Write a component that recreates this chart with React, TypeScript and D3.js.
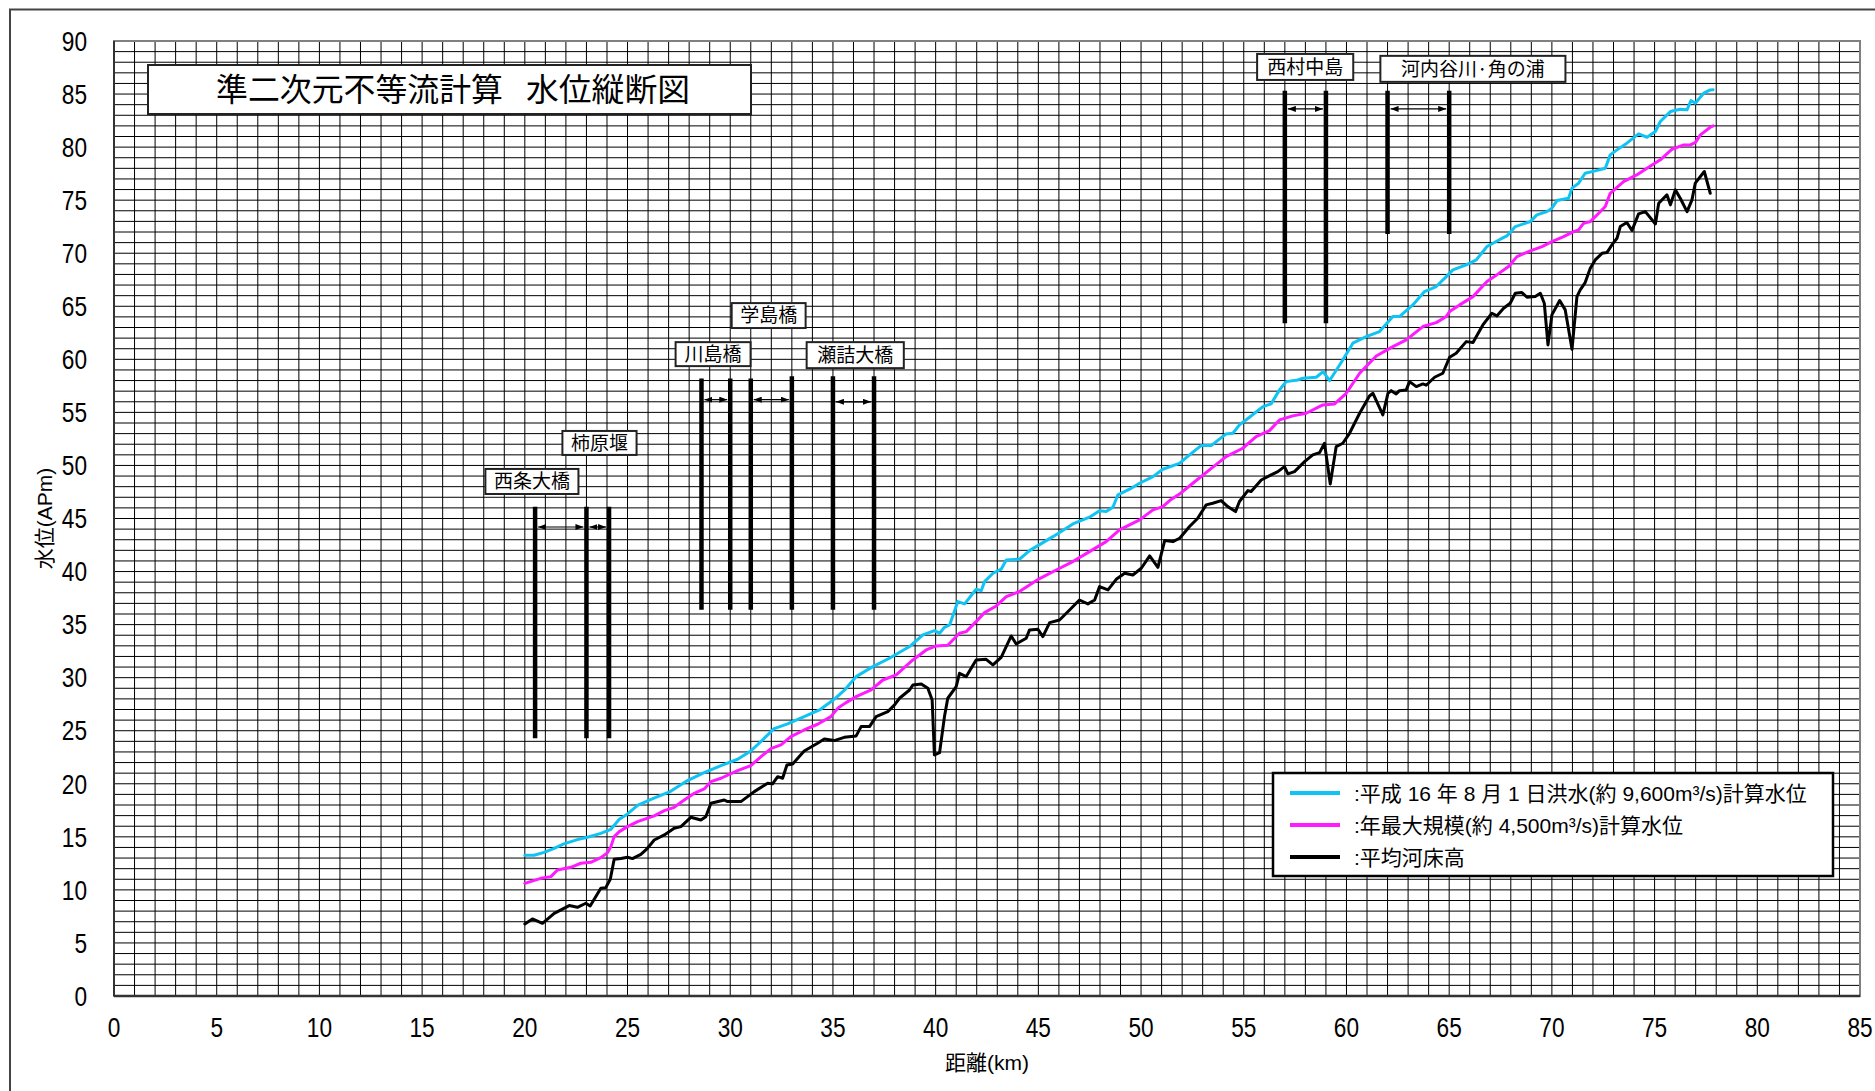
import React from 'react';
import * as d3 from 'd3';

type P = [number, number];

// ---- data ----
const xTickValues = [0, 5, 10, 15, 20, 25, 30, 35, 40, 45, 50, 55, 60, 65, 70, 75, 80, 85];
const yTickValues = [0, 5, 10, 15, 20, 25, 30, 35, 40, 45, 50, 55, 60, 65, 70, 75, 80, 85, 90];

// 平成16年8月1日洪水 計算水位 (km, APm)
const floodH16: P[] = [
  [20.0, 13.26], [20.45, 13.26], [20.94, 13.54], [21.43, 13.92], [21.9, 14.33], [22.56, 14.74],
  [23.05, 14.96], [23.7, 15.33], [24.19, 15.71], [24.6, 16.65], [25.0, 17.16], [25.49, 17.97],
  [26.14, 18.54], [27.1, 19.29], [27.92, 20.3], [28.73, 21.05], [29.55, 21.71], [30.36, 22.31],
  [31.0, 23.09], [31.5, 24.0], [32.14, 25.2], [32.79, 25.64], [33.6, 26.33], [34.4, 27.02],
  [35.06, 27.96], [35.6, 28.9], [36.13, 30.1], [36.94, 31.04], [37.75, 31.83], [38.73, 32.93],
  [39.38, 34.03], [39.94, 34.43], [40.19, 34.18], [40.43, 34.75], [40.68, 34.97], [41.08, 37.17],
  [41.41, 36.95], [41.97, 38.33], [42.22, 38.2], [42.38, 39.05], [42.79, 39.84], [43.19, 40.22],
  [43.44, 41.09], [44.08, 41.16], [44.57, 41.97], [45.71, 43.29], [46.68, 44.49], [47.49, 45.12],
  [47.98, 45.74], [48.3, 45.65], [48.63, 46.06], [48.87, 47.22], [49.44, 47.76], [49.93, 48.32],
  [50.58, 48.95], [51.06, 49.64], [51.87, 50.2], [52.36, 50.99], [52.92, 51.87], [53.41, 51.87],
  [54.14, 52.97], [54.47, 53.03], [54.79, 53.82], [55.28, 54.54], [55.93, 55.55], [56.33, 55.8],
  [56.74, 57.12], [57.06, 57.9], [57.63, 58.06], [57.88, 58.22], [58.53, 58.31], [58.86, 58.85],
  [59.18, 58.0], [59.51, 59.0], [59.82, 59.94], [60.31, 61.52], [60.96, 62.14], [61.61, 62.62],
  [62.26, 64.03], [62.58, 64.03], [63.23, 65.13], [63.8, 66.39], [64.37, 66.86], [64.86, 67.8],
  [65.18, 68.43], [65.83, 68.9], [66.32, 69.37], [66.84, 70.63], [67.49, 71.32], [67.81, 71.63],
  [68.22, 72.51], [68.95, 72.98], [69.27, 73.61], [69.76, 73.92], [70.0, 74.24], [70.25, 74.96],
  [70.81, 75.18], [70.98, 76.13], [71.3, 76.6], [71.62, 77.54], [72.11, 77.76], [72.6, 78.01],
  [72.84, 79.27], [73.17, 79.74], [73.65, 80.37], [74.22, 81.25], [74.63, 80.93], [75.04, 81.47],
  [75.28, 82.41], [75.77, 83.35], [76.25, 83.57], [76.58, 83.51], [76.77, 84.39], [76.98, 84.14],
  [77.39, 85.08], [77.71, 85.39], [77.85, 85.4],
];

// 年最大規模 計算水位
const annualMax: P[] = [
  [20.0, 10.62], [20.78, 11.09], [21.27, 11.25], [21.59, 11.88], [22.24, 12.13], [22.73, 12.51],
  [23.21, 12.6], [23.7, 13.04], [24.03, 13.51], [24.19, 14.08], [24.35, 15.02], [24.6, 15.49],
  [25.0, 15.96], [25.49, 16.43], [26.3, 16.97], [26.79, 17.47], [27.27, 17.78], [27.76, 18.47],
  [28.25, 19.1], [28.73, 19.51], [29.06, 20.2], [29.55, 20.52], [30.36, 21.24], [31.0, 21.71],
  [31.5, 22.56], [32.0, 23.34], [32.47, 23.66], [32.95, 24.44], [33.6, 25.07], [34.25, 25.61],
  [34.9, 26.33], [35.23, 27.11], [35.6, 27.6], [36.13, 28.21], [36.86, 28.84], [37.43, 29.78],
  [38.08, 30.26], [38.89, 31.67], [39.54, 32.61], [40.03, 32.99], [40.59, 33.05], [41.16, 34.18],
  [41.49, 34.34], [41.97, 35.28], [42.38, 36.13], [42.95, 36.76], [43.44, 37.64], [44.08, 38.11],
  [45.06, 39.34], [45.87, 40.15], [46.68, 40.94], [47.49, 41.88], [48.3, 42.82], [48.95, 43.92],
  [49.93, 44.87], [50.58, 45.81], [51.06, 46.12], [51.39, 46.69], [51.87, 47.3], [52.52, 48.32],
  [53.33, 49.58], [54.14, 50.83], [54.95, 51.62], [55.6, 52.72], [56.25, 53.28], [56.74, 54.29],
  [57.39, 54.67], [58.04, 54.92], [58.85, 55.7], [59.42, 55.8], [59.99, 56.8], [60.64, 58.69],
  [61.45, 60.32], [62.26, 61.2], [62.91, 61.83], [63.72, 63.09], [64.37, 63.46], [64.86, 64.03],
  [65.02, 64.5], [65.51, 65.13], [66.16, 65.91], [66.84, 67.33], [67.32, 67.96], [67.89, 68.74],
  [68.3, 69.68], [68.95, 70.22], [69.52, 70.63], [70.0, 71.1], [70.57, 71.57], [71.06, 72.04],
  [71.3, 72.2], [71.55, 72.83], [71.87, 72.98], [72.28, 73.77], [72.6, 74.4], [72.84, 75.65],
  [73.49, 76.75], [74.22, 77.48], [74.63, 78.01], [75.28, 78.8], [75.85, 79.8], [76.42, 80.21],
  [76.74, 80.21], [76.98, 80.43], [77.23, 81.15], [77.71, 81.87], [77.85, 82.0],
];

// 平均河床高
const bedElevation: P[] = [
  [20.0, 6.79], [20.37, 7.26], [20.86, 6.85], [21.43, 7.79], [22.16, 8.52], [22.56, 8.36],
  [22.97, 8.74], [23.18, 8.48], [23.7, 10.15], [23.94, 10.21], [24.16, 11.0], [24.35, 12.88],
  [24.68, 12.95], [25.0, 13.07], [25.24, 12.95], [25.65, 13.35], [25.97, 13.92], [26.3, 14.7],
  [26.79, 15.18], [27.27, 15.81], [27.6, 15.96], [28.08, 16.84], [28.57, 16.59], [28.81, 16.9],
  [29.06, 18.16], [29.71, 18.47], [29.87, 18.32], [30.52, 18.32], [31.17, 19.26], [31.82, 20.05],
  [32.06, 19.99], [32.31, 20.67], [32.55, 20.52], [32.76, 21.77], [33.04, 21.87], [33.6, 23.09],
  [34.25, 23.82], [34.58, 24.22], [35.06, 24.07], [35.55, 24.38], [36.13, 24.51], [36.37, 25.39],
  [36.78, 25.39], [37.1, 26.33], [37.67, 26.8], [38.0, 27.43], [38.24, 28.06], [38.73, 28.84],
  [38.89, 29.31], [39.3, 29.41], [39.62, 29.0], [39.83, 27.9], [39.94, 22.72], [40.19, 22.93],
  [40.43, 26.33], [40.59, 28.06], [41.0, 29.16], [41.16, 30.41], [41.49, 30.1], [41.97, 31.67],
  [42.46, 31.73], [42.79, 31.2], [43.19, 31.92], [43.68, 33.93], [43.92, 33.18], [44.41, 33.71],
  [44.57, 34.5], [44.98, 34.56], [45.22, 33.87], [45.55, 35.19], [46.03, 35.44], [46.52, 36.38],
  [47.0, 37.32], [47.41, 36.95], [47.74, 37.32], [47.98, 38.58], [48.39, 38.27], [48.79, 39.27],
  [49.2, 39.84], [49.6, 39.68], [50.01, 40.31], [50.42, 41.47], [50.82, 40.4], [51.15, 42.92],
  [51.55, 42.82], [51.88, 43.14], [52.36, 44.24], [52.75, 45.0], [53.17, 46.28], [53.49, 46.44],
  [53.9, 46.69], [54.22, 46.12], [54.6, 45.65], [54.79, 46.6], [55.2, 47.63], [55.36, 47.54],
  [55.85, 48.63], [56.33, 49.11], [56.66, 49.42], [56.98, 49.89], [57.15, 49.2], [57.47, 49.42],
  [57.96, 50.36], [58.36, 50.99], [58.69, 51.21], [58.93, 52.09], [59.21, 48.26], [59.5, 51.78],
  [59.82, 52.09], [60.15, 53.03], [60.64, 54.92], [61.12, 56.55], [61.29, 56.8], [61.77, 54.76],
  [62.02, 56.8], [62.18, 57.05], [62.42, 56.74], [62.58, 57.05], [62.91, 57.12], [63.07, 57.9],
  [63.4, 57.43], [63.72, 57.68], [63.88, 57.56], [64.29, 58.31], [64.69, 58.69], [65.02, 60.2],
  [65.34, 60.57], [65.83, 61.67], [66.16, 61.58], [66.64, 63.24], [67.08, 64.34], [67.32, 64.09],
  [67.65, 64.81], [67.97, 65.29], [68.22, 66.23], [68.54, 66.29], [68.79, 65.85], [69.19, 65.91],
  [69.44, 66.23], [69.63, 65.29], [69.81, 61.36], [70.0, 64.19], [70.38, 65.54], [70.65, 64.66],
  [70.98, 60.95], [71.22, 65.91], [71.38, 66.54], [71.62, 67.23], [71.87, 68.58], [72.11, 69.37],
  [72.44, 69.99], [72.68, 70.06], [72.92, 70.78], [73.17, 71.41], [73.33, 72.51], [73.65, 72.89],
  [73.9, 72.14], [74.22, 73.71], [74.55, 73.92], [75.04, 72.76], [75.2, 74.71], [75.6, 75.5],
  [75.77, 74.56], [76.01, 75.97], [76.25, 75.18], [76.58, 73.92], [76.82, 75.03], [76.98, 76.6],
  [77.42, 77.7], [77.71, 75.65],
];

const seriesNames = [
  ':平成 16 年 8 月 1 日洪水(約 9,600m³/s)計算水位',
  ':年最大規模(約 4,500m³/s)計算水位',
  ':平均河床高',
];
const seriesColors = ['#0FC4F4', '#FF1AFF', '#000000'];

// structure markers: [km, bottom APm, top APm]
const structureBars: [number, number, number][] = [
  [20.5, 24.3, 46.1], [23.0, 24.3, 46.1], [24.1, 24.3, 46.1],
  [28.6, 36.4, 58.2], [30.0, 36.4, 58.2], [31.0, 36.4, 58.2], [33.0, 36.4, 58.4],
  [35.0, 36.4, 58.4], [37.0, 36.4, 58.4],
  [57.0, 63.4, 85.3], [59.0, 63.4, 85.3], [62.0, 71.8, 85.3], [65.0, 71.8, 85.3],
];
// arrows: [from km, to km, APm]
const rangeArrows: [number, number, number][] = [
  [20.5, 23.0, 44.2], [23.0, 24.1, 44.2], [28.6, 30.0, 56.2], [31.0, 33.0, 56.2],
  [35.0, 37.0, 56.0], [57.0, 59.0, 83.6], [62.0, 65.0, 83.6],
];
// labels: [text, left km, right km, top APm, bottom APm]
const sectionLabels: [string, number, number, number, number][] = [
  ['西条大橋', 18.08, 22.61, 49.67, 47.31],
  ['柿原堰', 21.83, 25.44, 53.25, 50.99],
  ['川島橋', 27.34, 30.99, 61.62, 59.36],
  ['学島橋', 30.07, 33.67, 65.3, 62.95],
  ['瀬詰大橋', 33.72, 38.45, 61.62, 59.17],
  ['西村中島', 55.65, 60.33, 88.78, 86.33],
  ['河内谷川·角の浦', 61.65, 70.66, 88.6, 86.15],
];

const W = 1875;
const H = 1091;
const NUM_FONT = "'Liberation Sans Narrow','Arial Narrow','Liberation Sans',Arial,sans-serif";
const JP_FONT = "'Liberation Sans','Noto Sans CJK JP','Noto Sans CJK SC',sans-serif";
const CJK_FONT = "'Noto Sans CJK JP',sans-serif";

export default function App() {
  const x = d3.scaleLinear().domain([0, 85]).range([114, 1860]);
  const y = d3.scaleLinear().domain([0, 90]).range([996, 41]);
  const line = d3.line<P>().x((d) => x(d[0])).y((d) => y(d[1]));
  const gridX = d3.range(1, 85, 1);
  const gridY = d3.range(1, 90, 1);
  const series = [floodH16, annualMax, bedElevation];

  return (
    <svg width={W} height={H} style={{ position: 'absolute', left: 0, top: 0, background: '#fff' }}>
      <defs>
        <marker id="ah" viewBox="0 0 8 6" refX={8} refY={3} markerWidth={8} markerHeight={6}
          markerUnits="userSpaceOnUse" orient="auto-start-reverse">
          <path d="M0,0 L8,3 L0,6 z" fill="#000" />
        </marker>
      </defs>
      <rect x={0} y={0} width={W} height={H} fill="#fff" />
      {/* chart frame */}
      <path d={`M10,${H + 5} L10,9.5 L${W + 5},9.5`} stroke="#444" strokeWidth={2} fill="none" />

      {/* grid */}
      <g stroke="#000" strokeWidth={1}>
        {gridX.map((k) => (
          <line key={'gx' + k} x1={x(k)} x2={x(k)} y1={y(0)} y2={y(90)} />
        ))}
        {gridY.map((k) => (
          <line key={'gy' + k} x1={x(0)} x2={x(85)} y1={y(k)} y2={y(k)} />
        ))}
      </g>
      {/* plot border */}
      <rect x={x(0)} y={y(90)} width={x(85) - x(0)} height={y(0) - y(90)} fill="none" stroke="#808080" strokeWidth={2} />
      <line x1={x(0)} x2={x(0)} y1={y(0)} y2={y(90)} stroke="#333" strokeWidth={2} />
      <line x1={x(0)} x2={x(85)} y1={y(0)} y2={y(0)} stroke="#333" strokeWidth={2.5} />

      {/* tick labels (condensed digits) */}
      <g fontFamily={NUM_FONT} fontSize={27} fill="#000">
        {yTickValues.map((v) => (
          <text key={'yt' + v} transform={`translate(87,${y(v)}) scale(0.84,1)`} dy="0.36em" textAnchor="end">{v}</text>
        ))}
        {xTickValues.map((v) => (
          <text key={'xt' + v} transform={`translate(${x(v)},1037) scale(0.84,1)`} textAnchor="middle">{v}</text>
        ))}
      </g>
      {/* axis titles */}
      <text x={x(42.5)} y={1070} textAnchor="middle" fontFamily={JP_FONT} fontSize={21}>距離(km)</text>
      <text transform={`translate(52,${y(45)}) rotate(-90)`} textAnchor="middle" fontFamily={JP_FONT} fontSize={21}>水位(APm)</text>

      {/* title */}
      <rect x={148} y={65} width={603} height={49} fill="#fff" stroke="#222" strokeWidth={2} />
      <text x={216} y={101} fontFamily={CJK_FONT} fontSize={32}
        textLength={287} lengthAdjust="spacingAndGlyphs">準二次元不等流計算</text>
      <text x={526} y={101} fontFamily={CJK_FONT} fontSize={32}
        textLength={164} lengthAdjust="spacingAndGlyphs">水位縦断図</text>

      {/* structure bars */}
      <g stroke="#000" strokeWidth={4.5}>
        {structureBars.map(([k, lo, hi], i) => (
          <line key={'sb' + i} x1={x(k)} x2={x(k)} y1={y(lo)} y2={y(hi)} />
        ))}
      </g>
      <g stroke="#000" strokeWidth={1.2}>
        {rangeArrows.map(([a, b, v], i) => (
          <line key={'ar' + i} x1={x(a) + 3} x2={x(b) - 3} y1={y(v)} y2={y(v)}
            markerStart="url(#ah)" markerEnd="url(#ah)" />
        ))}
      </g>
      {sectionLabels.map(([t, l, r, top, bot], i) => (
        <g key={'sl' + i}>
          <rect x={x(l)} y={y(top)} width={x(r) - x(l)} height={y(bot) - y(top)} fill="#fff" stroke="#222" strokeWidth={2} />
          <text x={(x(l) + x(r)) / 2} y={(y(top) + y(bot)) / 2} dy="0.36em" textAnchor="middle"
            fontFamily={CJK_FONT} fontSize={19}>{t}</text>
        </g>
      ))}

      {/* series lines */}
      {series.map((s, i) => (
        <path key={'s' + i} d={line(s) || ''} fill="none" stroke={seriesColors[i]} strokeWidth={3}
          strokeLinejoin="round" strokeLinecap="round" />
      ))}

      {/* legend */}
      <rect x={1273} y={773} width={560} height={103} fill="#fff" stroke="#000" strokeWidth={2.5} />
      {seriesNames.map((n, i) => (
        <g key={'lg' + i}>
          <line x1={1290} x2={1340} y1={793 + i * 32} y2={793 + i * 32} stroke={seriesColors[i]} strokeWidth={4} />
          <text x={1354} y={793 + i * 32} dy="0.36em" fontFamily={JP_FONT} fontSize={21}>{n}</text>
        </g>
      ))}
    </svg>
  );
}
